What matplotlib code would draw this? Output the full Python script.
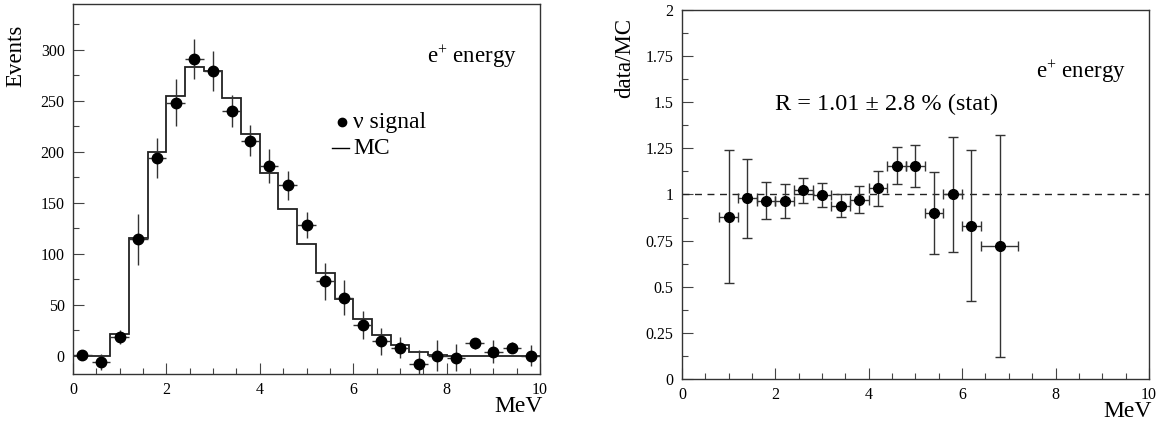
import numpy as np
import matplotlib.pyplot as plt
from matplotlib.ticker import MultipleLocator

plt.rcParams['font.family'] = ['Liberation Serif', 'DejaVu Serif']
plt.rcParams['mathtext.fontset'] = 'custom'
plt.rcParams['mathtext.rm'] = 'Liberation Serif'
plt.rcParams['mathtext.it'] = 'Liberation Serif:italic'

# left panel: e+ energy spectrum, 0.4 MeV bins
edges = np.arange(0, 10.01, 0.4)
centers = [0.2, 0.6, 1.0, 1.4, 1.8, 2.2, 2.6, 3.0, 3.4, 3.8, 4.2, 4.6, 5.0,
           5.4, 5.8, 6.2, 6.6, 7.0, 7.4, 7.8, 8.2, 8.6, 9.0, 9.4, 9.8]
signal = [1, -6, 18, 114, 194, 248, 291, 279, 240, 211, 186, 167, 128,
          73, 57, 30, 14, 8, -8, 0, -2, 12, 4, 8, 0]
signal_err = [3, 8, 7, 25, 20, 23, 20, 19.5, 16, 15, 17, 14, 13,
              18, 17, 14, 13, 10, 14, 15, 13, 5, 11, 5, 10]
mc = [0, 0, 21, 115, 200, 255, 283, 279, 253, 217, 179, 144, 110,
      81, 56, 36, 20, 10, 4, 1, 0, 0, 0, 0, 0]

# right panel: data/MC ratio
r_x = [1.0, 1.4, 1.8, 2.2, 2.6, 3.0, 3.4, 3.8, 4.2, 4.6, 5.0, 5.4, 5.8, 6.2, 6.8]
r_xerr = [0.2] * 14 + [0.4]
ratio = [0.88, 0.98, 0.965, 0.965, 1.022, 0.995, 0.94, 0.972, 1.034, 1.155,
         1.155, 0.9, 1.0, 0.83, 0.72]
ratio_err = [0.36, 0.215, 0.1, 0.09, 0.07, 0.065, 0.06, 0.075, 0.095, 0.1,
             0.115, 0.22, 0.31, 0.41, 0.6]
r_ticks = ['0', '0.25', '0.5', '0.75', '1', '1.25', '1.5', '1.75', '2']

fig = plt.figure(figsize=(11.61, 4.21), dpi=100)
ax1 = fig.add_axes([0.0629, 0.1116, 0.4022, 0.8789])
ax2 = fig.add_axes([0.5874, 0.0998, 0.4022, 0.8765])

ax1.stairs(mc, edges, color='#222222', lw=1.3)
ax1.errorbar(centers, signal, xerr=0.2, yerr=signal_err, fmt='o', color='black',
             ms=7.5, ecolor='#333333', elinewidth=1.0, capsize=0)
ax1.set_xlim(0, 10)
ax1.set_ylim(-18, 345)
ax1.yaxis.set_major_locator(MultipleLocator(50))
ax1.yaxis.set_minor_locator(MultipleLocator(25))
ax1.set_ylabel('Events', fontsize=16.5)
ax1.yaxis.set_label_coords(-0.1, 0.86)
ax1.text(0.758, 0.84, r'e$^{+}$ energy', transform=ax1.transAxes, fontsize=16.5)
ax1.plot([0.575], [0.681], 'o', color='black', ms=6, transform=ax1.transAxes)
ax1.text(0.6, 0.681, 'ν signal', transform=ax1.transAxes, fontsize=17, va='center')
ax1.plot([0.555, 0.59], [0.61, 0.61], color='black', lw=1.0, transform=ax1.transAxes)
ax1.text(0.6, 0.61, 'MC', transform=ax1.transAxes, fontsize=17, va='center')

ax2.axhline(1.0, color='#222222', lw=1.0, ls=(0, (5, 4)))
ax2.errorbar(r_x, ratio, xerr=r_xerr, yerr=ratio_err, fmt='o', color='black',
             ms=7, ecolor='#333333', elinewidth=1.0, capsize=3.5, capthick=1.0)
ax2.set_xlim(0, 10)
ax2.set_ylim(0, 2)
ax2.set_yticks(np.arange(0, 2.01, 0.25))
ax2.set_yticklabels(r_ticks)
ax2.yaxis.set_minor_locator(MultipleLocator(0.125))
ax2.set_ylabel('data/MC', fontsize=16.5)
ax2.yaxis.set_label_coords(-0.1, 0.87)
ax2.text(0.758, 0.815, r'e$^{+}$ energy', transform=ax2.transAxes, fontsize=16.5)
ax2.text(0.2, 0.73, 'R = 1.01 ± 2.8 % (stat)', transform=ax2.transAxes, fontsize=17.5)

for ax in (ax1, ax2):
    ax.xaxis.set_major_locator(MultipleLocator(2))
    ax.xaxis.set_minor_locator(MultipleLocator(0.5))
    ax.tick_params(which='both', direction='in', top=False, right=False,
                   labelsize=11.5, width=0.8, color='#444444', pad=6)
    ax.tick_params(which='major', length=8)
    ax.tick_params(which='minor', length=4)
    ax.set_xlabel('MeV', fontsize=17)
    ax.xaxis.set_label_coords(0.955, -0.06)
    for s in ax.spines.values():
        s.set_linewidth(1.0)
        s.set_color('#333333')

plt.savefig('out.png', dpi=100)
